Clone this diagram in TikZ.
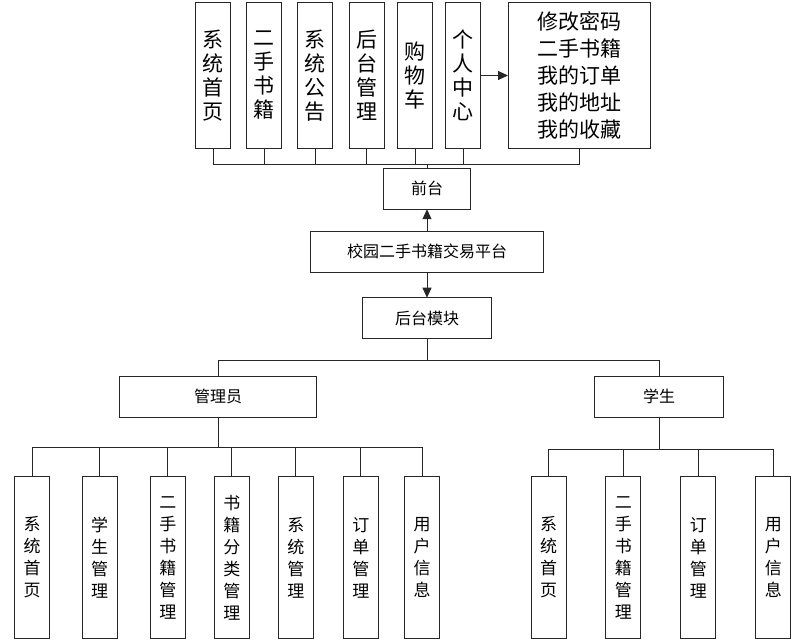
\documentclass[tikz,border=0pt]{standalone}
\usepackage{fontspec}
\setmainfont{Noto Sans CJK SC}
\usetikzlibrary{arrows.meta}
\begin{document}
\begin{tikzpicture}[x=1pt,y=-1pt,
  every node/.style={inner sep=0pt,outer sep=0pt},
  box/.style={draw=black!85,line width=1pt,fill=white,align=center},
  topbox/.style={box,minimum width=35pt,minimum height=145pt,font=\fontsize{21}{24}\selectfont},
  midbox/.style={box,minimum height=41pt,font=\fontsize{16}{19}\selectfont},
  lowbox/.style={box,minimum width=35pt,minimum height=162pt,font=\fontsize{17}{22}\selectfont},
  conn/.style={draw=black!85,line width=1pt},
  arr/.style={conn,-{Triangle[length=10pt,width=9pt]}}]
\useasboundingbox (0,0) rectangle (812,642);
% top row
\node[topbox] (t1) at (213,75.5) {系\\统\\首\\页};
\node[topbox] (t2) at (264,75.5) {二\\手\\书\\籍};
\node[topbox] (t3) at (315,75.5) {系\\统\\公\\告};
\node[topbox] (t4) at (366.5,75.5) {后\\台\\管\\理};
\node[topbox] (t5) at (415,75.5) {购\\物\\车};
\node[topbox] (t6) at (463,75.5) {个\\人\\中\\心};
\node[box,minimum width=142pt,minimum height=145pt,font=\fontsize{21}{27}\selectfont] (t7) at (579,75.5) {修改密码\\二手书籍\\我的订单\\我的地址\\我的收藏};
\draw[arr] (t6.east) -- (t7.west);
\coordinate (bus1) at (427,164);
\node[midbox,minimum width=87pt] (qt) at (427,188.7) {前台};
\foreach \n in {t1,t2,t3,t4,t5,t6,t7} \draw[conn] (\n.south) |- (bus1);
\draw[conn] (bus1) -- (qt.north);
% platform
\node[midbox,minimum width=233pt] (pf) at (427,251.8) {校园二手书籍交易平台};
\draw[arr] (pf.north) -- (qt.south);
\node[midbox,minimum width=129pt] (ht) at (427,318.2) {后台模块};
\draw[arr] (pf.south) -- (ht.north);
\coordinate (bus2) at (427,360);
\draw[conn] (ht.south) -- (bus2);
% roles
\node[midbox,minimum width=197pt] (gl) at (218,396.7) {管理员};
\node[midbox,minimum width=129pt] (xs) at (659,396.7) {学生};
\draw[conn] (gl.north) |- (bus2);
\draw[conn] (xs.north) |- (bus2);
% admin children
\coordinate (bus3) at (218,447);
\draw[conn] (gl.south) -- (bus3);
\node[lowbox] (a1) at (32.2,557.5) {系\\统\\首\\页};
\node[lowbox] (a2) at (99.7,557.5) {学\\生\\管\\理};
\node[lowbox] (a3) at (167.8,557.5) {二\\手\\书\\籍\\管\\理};
\node[lowbox] (a4) at (231.8,557.5) {书\\籍\\分\\类\\管\\理};
\node[lowbox] (a5) at (295.8,557.5) {系\\统\\管\\理};
\node[lowbox] (a6) at (360.8,557.5) {订\\单\\管\\理};
\node[lowbox] (a7) at (422.2,557.5) {用\\户\\信\\息};
\foreach \n in {a1,a2,a3,a4,a5,a6,a7} \draw[conn] (\n.north) |- (bus3);
% student children
\coordinate (bus4) at (659,449);
\draw[conn] (xs.south) -- (bus4);
\node[lowbox] (s1) at (548.7,557.5) {系\\统\\首\\页};
\node[lowbox] (s2) at (623.3,557.5) {二\\手\\书\\籍\\管\\理};
\node[lowbox] (s3) at (698.3,557.5) {订\\单\\管\\理};
\node[lowbox] (s4) at (773.3,557.5) {用\\户\\信\\息};
\foreach \n in {s1,s2,s3,s4} \draw[conn] (\n.north) |- (bus4);
\end{tikzpicture}
\end{document}
